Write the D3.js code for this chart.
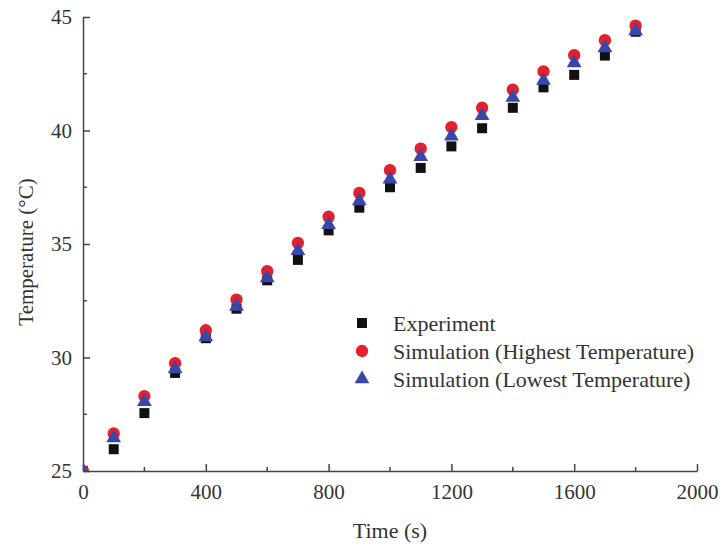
<!DOCTYPE html>
<html>
<head>
<meta charset="utf-8">
<script src="https://cdn.jsdelivr.net/npm/d3@7/dist/d3.min.js"></script>
<style>
  html, body { margin: 0; padding: 0; background: #fff; }
  svg { display: block; }
  text { font-family: "Liberation Serif", "Times New Roman", serif; fill: #333; }
</style>
</head>
<body>
<script>
const times = [0, 100, 200, 300, 400, 500, 600, 700, 800, 900, 1000, 1100, 1200, 1300, 1400, 1500, 1600, 1700, 1800];
const experiment = [25.0, 25.96, 27.55, 29.32, 30.85, 32.15, 33.4, 34.3, 35.6, 36.6, 37.5, 38.35, 39.3, 40.1, 41.0, 41.9, 42.45, 43.3, 44.35];
const simHighest = [25.0, 26.65, 28.3, 29.75, 31.2, 32.55, 33.8, 35.05, 36.2, 37.25, 38.25, 39.2, 40.15, 41.0, 41.8, 42.6, 43.32, 43.98, 44.62];
const simLowest = [25.0, 26.45, 28.05, 29.5, 30.9, 32.25, 33.5, 34.7, 35.85, 36.9, 37.85, 38.85, 39.75, 40.65, 41.45, 42.2, 42.98, 43.64, 44.38];
const seriesNames = ["Experiment", "Simulation (Highest Temperature)", "Simulation (Lowest Temperature)"];
const xTicks = [0, 400, 800, 1200, 1600, 2000];
const yTicks = [25, 30, 35, 40, 45];

const W = 725, H = 546;
const m = { left: 83, right: 28, top: 17, bottom: 75 };
const svg = d3.select("body").append("svg").attr("width", W).attr("height", H);

const x = d3.scaleLinear().domain([0, 2000]).range([m.left, W - m.right]);
const y = d3.scaleLinear().domain([25, 45]).range([H - m.bottom, m.top]);

svg.append("defs").append("clipPath").attr("id", "clip")
  .append("rect").attr("x", m.left).attr("y", m.top)
  .attr("width", x(2000) - m.left).attr("height", y(25) - m.top);

const axisColor = "#444";

// X axis (inward ticks)
const xMinor = d3.range(200, 2000, 400);
const gx = svg.append("g").attr("transform", `translate(0,${y(25)})`);
gx.call(d3.axisBottom(x).tickValues(xTicks).tickSize(-7).tickPadding(13).tickFormat(d3.format("d")).tickSizeOuter(0));
gx.selectAll(".tick text").attr("dy", "0.71em").style("font-size", "21px");
gx.append("g").selectAll("line").data(xMinor).join("line")
  .attr("x1", d => x(d)).attr("x2", d => x(d)).attr("y1", 0).attr("y2", -4)
  .attr("stroke", axisColor).attr("stroke-width", 1.5);

// Y axis
const yMinor = [27.5, 32.5, 37.5, 42.5];
const gy = svg.append("g").attr("transform", `translate(${x(0)},0)`);
gy.call(d3.axisLeft(y).tickValues(yTicks).tickSize(-7).tickPadding(11).tickSizeOuter(0));
gy.selectAll(".tick text").style("font-size", "21px");
gy.append("g").selectAll("line").data(yMinor).join("line")
  .attr("y1", d => y(d)).attr("y2", d => y(d)).attr("x1", 0).attr("x2", 4)
  .attr("stroke", axisColor).attr("stroke-width", 1.5);

[gx, gy].forEach(g => {
  g.select(".domain").attr("stroke", axisColor).attr("stroke-width", 1.5);
  g.selectAll(".tick line").attr("stroke", axisColor).attr("stroke-width", 1.5);
  g.selectAll(".tick text").attr("fill", "#333").style("font-family", "'Liberation Serif', serif");
});

// Axis titles
svg.append("text").attr("x", (x(0) + x(2000)) / 2).attr("y", 538)
  .attr("text-anchor", "middle").style("font-size", "22px").text("Time (s)");
svg.append("text").attr("transform", `translate(33,${(y(25) + y(45)) / 2 + 8}) rotate(-90)`)
  .attr("text-anchor", "middle").style("font-size", "21px").text("Temperature (°C)");

// Data
const plot = svg.append("g").attr("clip-path", "url(#clip)");
const colors = ["#111111", "#e3202c", "#3a47a8"];
const sq = d3.symbol().type(d3.symbolSquare).size(100);
const ci = d3.symbol().type(d3.symbolCircle).size(120);
const tri = d3.symbol().type(d3.symbolTriangle).size(95);

plot.append("g").selectAll("path").data(times.map((t, i) => [t, experiment[i]])).join("path")
  .attr("d", sq).attr("transform", d => `translate(${x(d[0])},${y(d[1])})`).attr("fill", colors[0]);
plot.append("g").selectAll("path").data(times.map((t, i) => [t, simHighest[i]])).join("path")
  .attr("d", ci).attr("transform", d => `translate(${x(d[0])},${y(d[1])})`).attr("fill", colors[1]);
plot.append("g").selectAll("path").data(times.map((t, i) => [t, simLowest[i]])).join("path")
  .attr("d", tri).attr("transform", d => `translate(${x(d[0])},${y(d[1])})`).attr("fill", colors[2]);

// Legend
const leg = svg.append("g");
const legSyms = [sq, ci, tri];
seriesNames.forEach((name, i) => {
  const yy = 323 + i * 28;
  leg.append("path").attr("d", legSyms[i]).attr("transform", `translate(362,${yy})`).attr("fill", colors[i]);
  leg.append("text").attr("x", 393).attr("y", yy).attr("dy", "0.35em")
    .style("font-size", "22px").text(name);
});
</script>
</body>
</html>
